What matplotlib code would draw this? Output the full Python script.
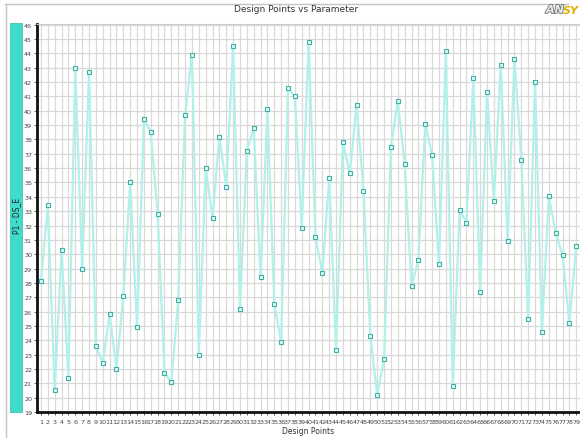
import numpy as np
import matplotlib.pyplot as plt
import matplotlib.patheffects as pe
from matplotlib.patches import Rectangle
from matplotlib.lines import Line2D

# design point numbers and the P1 - DS_E value at each one
points = list(range(1, 80))
ds_e = [28.1, 33.4, 20.5, 30.3, 21.4, 43.0, 29.0, 42.7, 23.6, 22.4,
        25.8, 22.0, 27.1, 35.0, 24.9, 39.4, 38.5, 32.8, 21.7, 21.1,
        26.8, 39.7, 43.9, 23.0, 36.0, 32.5, 38.2, 34.7, 44.5, 26.2,
        37.2, 38.8, 28.4, 40.1, 26.5, 23.9, 41.6, 41.0, 31.85, 44.8,
        31.2, 28.7, 35.3, 23.3, 37.8, 35.65, 40.4, 34.4, 24.3, 20.2,
        22.7, 37.5, 40.7, 36.3, 27.75, 29.6, 39.1, 36.9, 29.3, 44.2,
        20.8, 33.1, 32.2, 42.3, 27.4, 41.3, 33.7, 43.2, 30.9, 43.6,
        36.6, 25.5, 42.0, 24.6, 34.05, 31.5, 29.95, 25.2, 30.6]
y_ticks = list(range(19, 47))

title = 'Design Points vs Parameter'
x_label = 'Design Points'
y_label = 'P1 - DS_E'


def main():
    W, H = 580, 439
    fig = plt.figure(figsize=(W / 100, H / 100), dpi=100)

    def fx(px):
        return px / W

    def fy(py):
        return 1 - py / H

    # outer panel frame
    fig.add_artist(Line2D([fx(5), fx(568)], [fy(5), fy(5)], color='#c4c4c4', lw=1))
    fig.add_artist(Line2D([fx(6), fx(6)], [fy(5), 0], color='#c4c4c4', lw=1))

    # teal bar holding the parameter name
    fig.add_artist(Rectangle((fx(10), fy(413)), fx(12), (413 - 24) / H,
                             facecolor='#3fdccb', edgecolor='#2fb8a8', lw=0.5))
    fig.text(fx(16.5), fy(216), y_label, rotation=90, ha='center', va='center',
             fontsize=5.5, color='#222222')

    fig.text(fx(296), fy(10), title, ha='center', va='center', fontsize=6.5,
             color='#333333')

    # logo in the corner
    logo = fig.text(fx(546), fy(11), 'AN', ha='left', va='center', fontsize=8,
                    fontweight='bold', style='italic', color='#e8e8e8')
    logo.set_path_effects([pe.withStroke(linewidth=1.2, foreground='#707070')])
    fig.text(fx(563), fy(11), 'SY', ha='left', va='center', fontsize=8,
             fontweight='bold', style='italic', color='#e0b000')

    ax = fig.add_axes([fx(37), fy(413), 1 - fx(37), (413 - 25) / H])
    ax.plot(points, ds_e, color='#b2f0ea', lw=1.6, marker='s', markersize=3.2,
            markerfacecolor='#dff7f4', markeredgecolor='#3fb0a6',
            markeredgewidth=0.8, zorder=3)

    ax.set_xlim(0.42, 79.55)
    ax.set_ylim(19, 46.05)
    ax.set_xticks(points)
    ax.set_xticklabels([str(p) for p in points])
    ax.set_yticks(y_ticks)
    ax.tick_params(axis='both', labelsize=4.6, length=2, width=0.6,
                   colors='#444444', pad=1.5)
    ax.tick_params(axis='x', pad=3)
    ax.grid(True, color='#d9d9d9', lw=0.9)
    ax.set_axisbelow(True)

    for side in ['left', 'bottom']:
        ax.spines[side].set_linewidth(2)
        ax.spines[side].set_color('#111111')
    ax.spines['top'].set_color('#cccccc')
    ax.spines['right'].set_visible(False)

    fig.text(fx(308), fy(432), x_label, ha='center', va='center', fontsize=5.5,
             color='#333333')

    fig.savefig('out.png', dpi=100)


if __name__ == "__main__":
    main()
